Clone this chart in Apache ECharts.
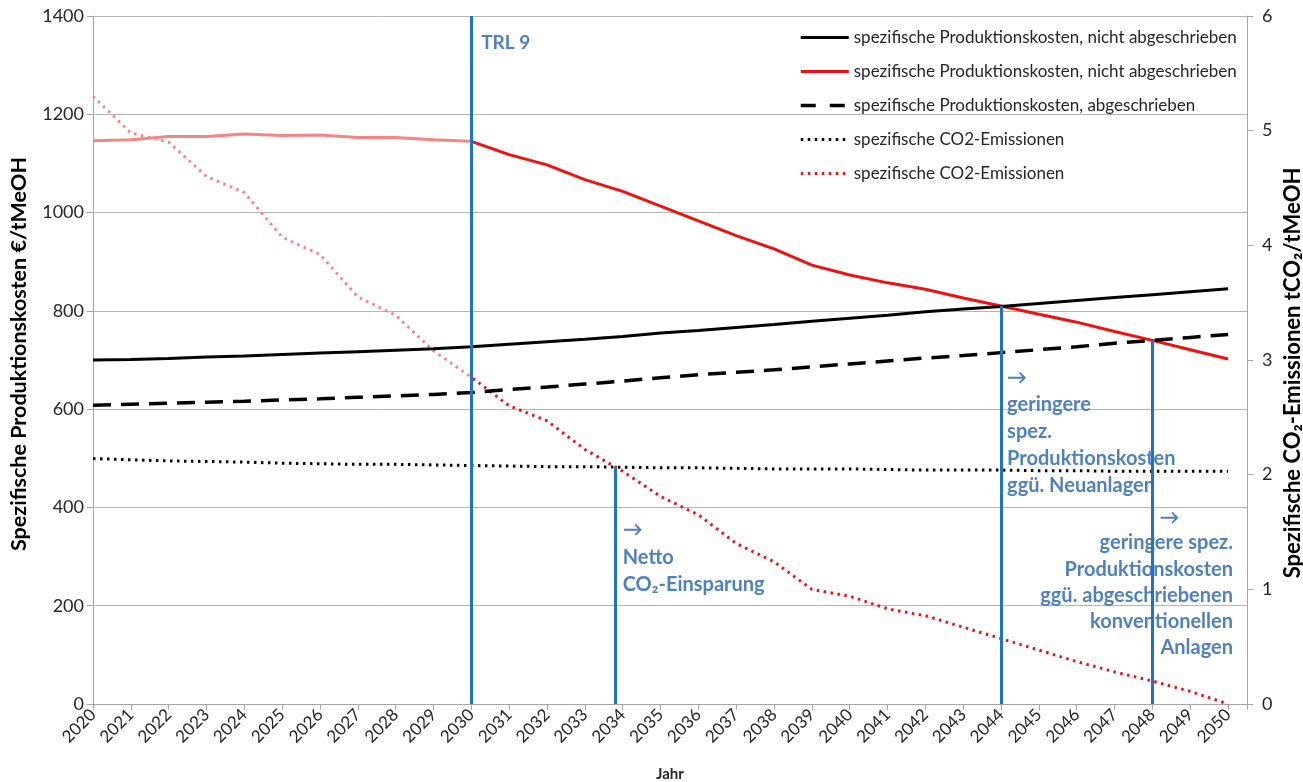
<!DOCTYPE html>
<html><head><meta charset="utf-8">
<script src="https://cdn.jsdelivr.net/npm/echarts@6/dist/echarts.min.js"></script>
<style>html,body{margin:0;padding:0;background:#fff}#c{width:1303px;height:782px}</style>
</head><body><div id="c"></div>
<script>
// ---------- data ----------
const years = [2020,2021,2022,2023,2024,2025,2026,2027,2028,2029,2030,2031,2032,2033,2034,2035,2036,2037,2038,2039,2040,2041,2042,2043,2044,2045,2046,2047,2048,2049,2050];
const costBlack = [700,701,703,706,708,711,714,717,720,723,727,732,737,742,748,755,760,766,772,779,785,791,798,804,809,815,821,827,833,839,845];
const costRed = [1146,1148,1155,1155,1160,1157,1158,1153,1153,1148,1145,1118,1097,1067,1043,1013,983,953,926,893,873,857,844,826,810,793,777,758,740,721,702];
const costDepr = [608,610,612,614,616,619,621,624,627,630,634,640,645,651,657,664,670,675,680,686,692,698,704,709,715,721,727,734,740,746,752];
const co2Black = [2.14,2.13,2.12,2.115,2.11,2.10,2.095,2.09,2.09,2.085,2.08,2.075,2.07,2.07,2.065,2.06,2.06,2.055,2.05,2.05,2.05,2.045,2.04,2.04,2.04,2.035,2.035,2.03,2.03,2.03,2.03];
const co2Red = [5.30,4.98,4.90,4.60,4.46,4.07,3.92,3.55,3.39,3.08,2.85,2.60,2.47,2.22,2.03,1.81,1.65,1.40,1.24,1.00,0.94,0.83,0.77,0.67,0.57,0.47,0.37,0.28,0.20,0.11,0.0];
const seriesNames = [
  'spezifische Produktionskosten, nicht abgeschrieben',
  'spezifische Produktionskosten, nicht abgeschrieben ',
  'spezifische Produktionskosten, abgeschrieben',
  'spezifische CO2-Emissionen',
  'spezifische CO2-Emissionen '
];
const leftName = 'Spezifische Produktionskosten €/tMeOH';
const rightName = 'Spezifische CO₂-Emissionen tCO₂/tMeOH';
const xName = 'Jahr';
const changeYear = 2030;
// vertical marker lines (year, top value on left axis)
const markYears = [2030, 2033.8, 2044, 2048];
const markTops = [1400, 483, 810, 741];
// annotations: [x(year), y(left-axis value), text, align, vAlign, lineHeight, fontSize]
const annotations = [
  [2030.26, 1345, 'TRL 9', 'left', 'middle', 0, 19],
  [2034.0, 382, '→\nNetto\nCO₂-Einsparung', 'left', 'top', 27.5, 20],
  [2044.16, 691, '→\ngeringere\nspez.\nProduktionskosten\nggü. Neuanlagen', 'left', 'top', 27, 20],
  [2048.19, 378.5, '→', 'left', 'middle', 0, 20],
  [2050.13, 354.3, 'geringere spez.\nProduktionskosten\nggü. abgeschriebenen\nkonventionellen\nAnlagen', 'right', 'top', 26.2, 20]
];

// ---------- style ----------
const FONT = 'Lato, "Open Sans", sans-serif';
const BLUE = '#1f74bf', ANNO = '#4f81bd';
const PINK = '#f58484', RED = '#ee1111';
const AX = '#a6a6a6', TXT = '#262626';
const frac = (changeYear - years[0]) / (years[years.length-1] - years[0]);
function split(c1, c2) {
  return new echarts.graphic.LinearGradient(0,0,1,0,[
    {offset:0,color:c1},{offset:frac,color:c1},{offset:frac,color:c2},{offset:1,color:c2}]);
}
const pair = arr => years.map((y,i)=>[y, arr[i]]);
const noSym = {opacity:0, borderWidth:0};

const chart = echarts.init(document.getElementById('c'), null, {renderer:'canvas'});
const option = {
  animation:false,
  backgroundColor:'#fff',
  textStyle:{fontFamily:FONT},
  grid:{left:93, right:56, top:16, bottom:78, outerBoundsMode:'none', containLabel:false},
  legend:{
    orient:'vertical', left:794, top:24, itemWidth:48, itemHeight:14, itemGap:17,
    textStyle:{fontSize:17, color:TXT, fontFamily:FONT}, selectedMode:false,
    data:[
      {name:seriesNames[0], itemStyle:noSym, lineStyle:{color:'#000', width:3, type:'solid'}},
      {name:seriesNames[1], itemStyle:noSym, lineStyle:{color:RED, width:3, type:'solid'}},
      {name:seriesNames[2], itemStyle:noSym, lineStyle:{color:'#000', width:3.5, type:[15,14]}},
      {name:seriesNames[3], itemStyle:noSym, lineStyle:{color:'#000', width:3, type:[2.5,4.5]}},
      {name:seriesNames[4], itemStyle:noSym, lineStyle:{color:RED, width:3, type:[2.5,4.5]}}
    ]
  },
  xAxis:{
    type:'value', min:2020, max:2050.5, interval:1,
    name:xName, nameLocation:'middle', nameGap:63, nameMoveOverlap:false,
    nameTextStyle:{fontWeight:'bold', fontSize:15, color:TXT, fontFamily:FONT},
    axisLine:{show:true, onZero:false, lineStyle:{color:AX, width:1}},
    axisTick:{show:true, length:6, lineStyle:{color:AX}},
    splitLine:{show:false},
    axisLabel:{rotate:45, fontSize:17, color:TXT, margin:8, fontFamily:FONT,
      formatter:v=>Number.isInteger(v)?String(v):'', showMaxLabel:true, showMinLabel:true, hideOverlap:false}
  },
  yAxis:[
    {type:'value', min:0, max:1400, interval:200, position:'left',
     name:leftName, nameLocation:'middle', nameRotate:90, nameGap:63, nameMoveOverlap:false,
     nameTextStyle:{fontWeight:'bold', fontSize:21.5, color:'#000', fontFamily:FONT, padding:[0,0,0,12]},
     axisLine:{show:true, lineStyle:{color:AX}},
     axisTick:{show:true, length:6, lineStyle:{color:AX}},
     splitLine:{show:true, lineStyle:{color:'#b4b4b4', width:1}},
     axisLabel:{fontSize:18, color:TXT, margin:9, fontFamily:FONT, formatter:v=>String(v)}},
    {type:'value', min:0, max:6, interval:1, position:'right',
     name:rightName, nameLocation:'middle', nameRotate:90, nameGap:35, nameMoveOverlap:false,
     nameTextStyle:{fontWeight:'bold', fontSize:22, color:'#000', fontFamily:FONT, padding:[0,26,0,0]},
     axisLine:{show:true, lineStyle:{color:AX}},
     axisTick:{show:true, length:6, lineStyle:{color:AX}},
     splitLine:{show:false},
     axisLabel:{fontSize:18, color:TXT, margin:15, fontFamily:FONT, formatter:v=>String(v)}}
  ],
  series:[
    {name:seriesNames[0], type:'line', yAxisIndex:0, data:pair(costBlack), symbol:'none', smooth:false,
     lineStyle:{color:'#000', width:3}, itemStyle:{color:'#000'}, z:3,
     markLine:{silent:true, symbol:'none', animation:false, label:{show:false},
       lineStyle:{color:BLUE, width:3, type:'solid'},
       data: markYears.map((x,i)=>[{coord:[x,0]},{coord:[x,markTops[i]]}])}},
    {name:seriesNames[1], type:'line', yAxisIndex:0, data:pair(costRed), symbol:'none',
     lineStyle:{color:split(PINK, RED), width:3}, itemStyle:{color:RED}, z:2},
    {name:seriesNames[2], type:'line', yAxisIndex:0, data:pair(costDepr), symbol:'none',
     lineStyle:{color:'#000', width:3.5, type:[18,10]}, itemStyle:{color:'#000'}, z:3},
    {name:seriesNames[3], type:'line', yAxisIndex:1, data:pair(co2Black), symbol:'none',
     lineStyle:{color:'#000', width:3, type:[2.5,4.5]}, itemStyle:{color:'#000'}, z:3},
    {name:seriesNames[4], type:'line', yAxisIndex:1, data:pair(co2Red), symbol:'none',
     lineStyle:{color:split(PINK, RED), width:3, type:[2.5,4.5]}, itemStyle:{color:RED}, z:2}
  ]
};
chart.setOption(option);

const graphics = annotations.map(a=>{
  const p = chart.convertToPixel({xAxisIndex:0, yAxisIndex:0}, [a[0], a[1]]);
  const style = {text:a[2], fill:ANNO, font:'bold ' + a[6] + 'px ' + FONT, textAlign:a[3], textVerticalAlign:a[4]};
  if (a[5]) style.lineHeight = a[5];
  return {type:'text', x:p[0], y:p[1], z:1, silent:true, style};
});
chart.setOption({graphic:graphics});
</script>
</body></html>
